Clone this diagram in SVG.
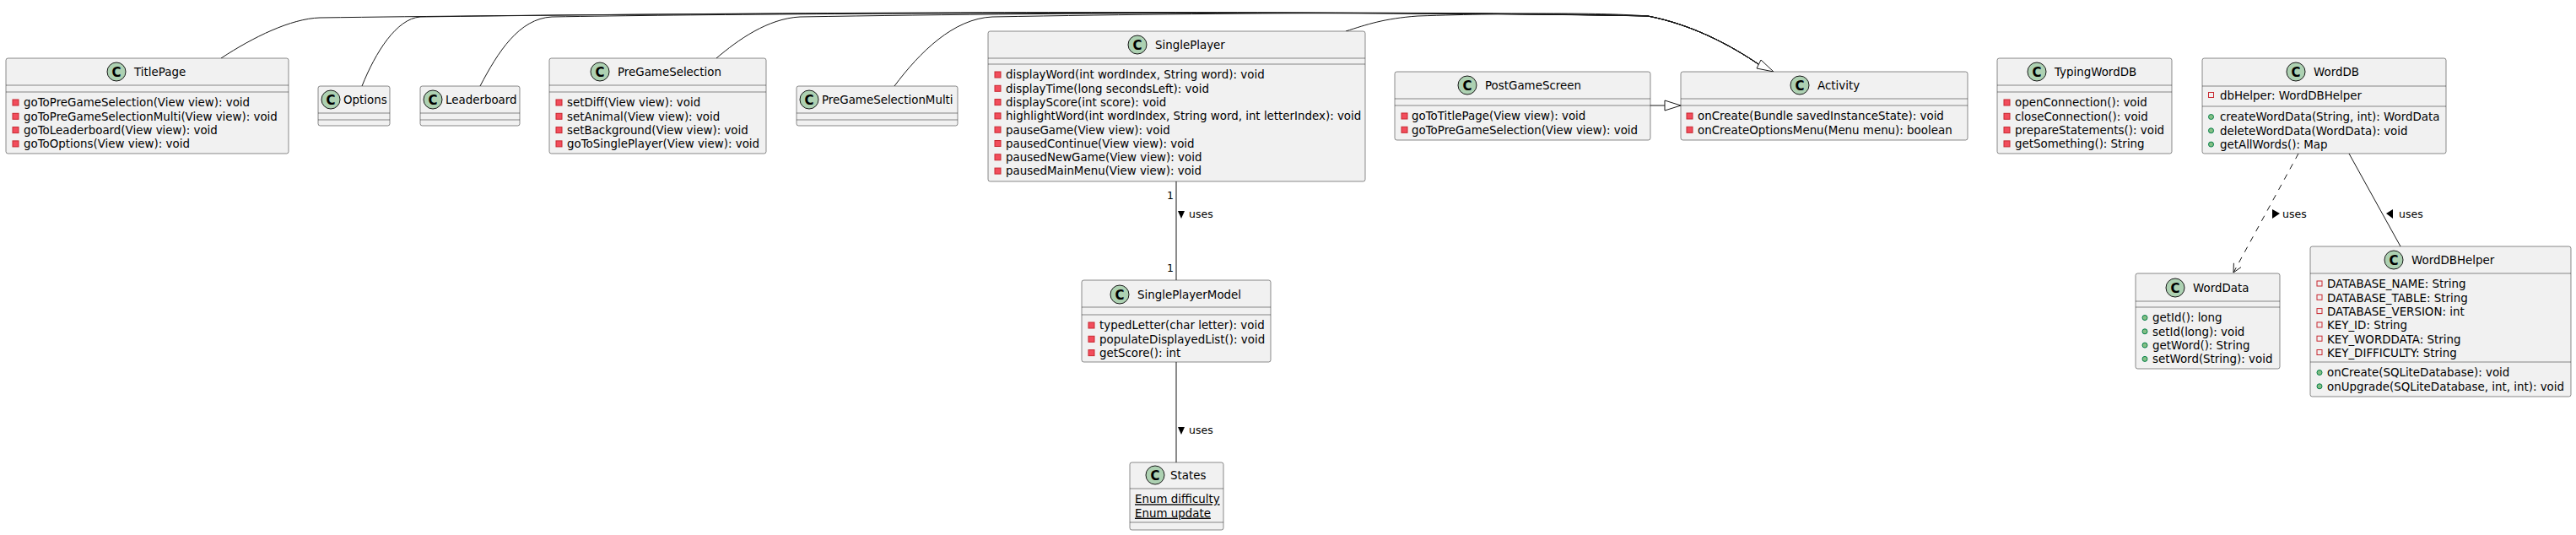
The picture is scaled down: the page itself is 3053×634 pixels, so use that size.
<svg xmlns="http://www.w3.org/2000/svg" width="3053" height="634" viewBox="0 0 3053 634">
<style>
.box{fill:#F1F1F1;stroke:#181818;stroke-width:0.5}
.dv{stroke:#181818;stroke-width:0.5}
.t{font-family:"DejaVu Sans",sans-serif;font-size:13.4px;fill:#000}
.lb{font-family:"DejaVu Sans",sans-serif;font-size:12.5px;fill:#000}
.ci{fill:#ADD1B2;stroke:#181818;stroke-width:1}
.cl{font-family:"DejaVu Sans",sans-serif;font-weight:bold;font-size:15px;text-anchor:middle;fill:#000}
.pm{fill:#F24D5C;stroke:#C82930;stroke-width:1}
.pf{fill:none;stroke:#C82930;stroke-width:1}
.pub{fill:#84BE84;stroke:#038048;stroke-width:1}
.e{fill:none;stroke:#181818;stroke-width:1}
.u{text-decoration:underline}
</style>
<rect width="3053" height="634" fill="#FFFFFF"/>
<g id="connectors">
<path class="e" d="M262,69 C300,44 345,22 379,21 C900,14 1700,13 1953,19 C2005,29 2050,53 2084,76"/>
<path class="e" d="M429,102 C445,62 470,22 498,20 C1000,13 1700,13 1953,19 C2005,29 2050,53 2084,76"/>
<path class="e" d="M569,102 C590,62 615,22 654,20 C1000,14 1700,14 1953,19 C2005,29 2050,53 2084,76"/>
<path class="e" d="M849,69 C875,47 910,22 948,20 C1300,14 1700,14 1953,19 C2005,29 2050,53 2084,76"/>
<path class="e" d="M1060,102 C1090,62 1130,22 1176,20 C1500,14 1800,14 1953,19 C2005,29 2050,53 2084,76"/>
<path class="e" d="M1595,37 C1620,29 1640,22 1680,19 C1800,15 1900,15 1953,19 C2005,29 2050,53 2084,76"/>
<polygon points="2102,85 2082,81 2087,71" fill="#FFFFFF" stroke="#181818" stroke-width="1"/>
<line class="e" x1="1956" y1="125" x2="1973" y2="125"/>
<polygon points="1992,125 1973,119 1973,131" fill="#FFFFFF" stroke="#181818" stroke-width="1"/>
<line class="e" x1="1394" y1="215" x2="1394" y2="332"/>
<text class="lb" x="1391" y="236" text-anchor="end">1</text>
<text class="lb" x="1391" y="322" text-anchor="end">1</text>
<polygon points="1396,250 1404,250 1400,259" fill="#000"/>
<text class="lb" x="1409" y="258">uses</text>
<line class="e" x1="1394" y1="429" x2="1394" y2="548"/>
<polygon points="1396,506 1404,506 1400,515" fill="#000"/>
<text class="lb" x="1409" y="514">uses</text>
<line class="e" x1="2724" y1="182" x2="2647" y2="323" stroke-dasharray="7,7"/>
<polyline class="e" points="2656,316.6 2647,323 2647.4,311.8"/>
<polygon points="2693,248 2693,259 2702,253" fill="#000"/>
<text class="lb" x="2705" y="258">uses</text>
<line class="e" x1="2784" y1="182" x2="2845" y2="292"/>
<polygon points="2836,248 2836,259 2828,253" fill="#000"/>
<text class="lb" x="2843" y="258">uses</text>
</g>
<g id="TitlePage">
<rect class="box" x="7" y="69" width="335" height="113" rx="2.5"/>
<line class="dv" x1="7" y1="101" x2="342" y2="101"/><line class="dv" x1="7" y1="109" x2="342" y2="109"/>
<circle class="ci" cx="138" cy="85" r="11"/><text class="cl" x="138" y="90.5">C</text>
<text class="t" x="159" y="90">TitlePage</text>
<rect class="pm" x="15" y="118" width="7" height="7"/><text class="t" x="28" y="126.3">goToPreGameSelection(View view): void</text>
<rect class="pm" x="15" y="134.3" width="7" height="7"/><text class="t" x="28" y="142.6">goToPreGameSelectionMulti(View view): void</text>
<rect class="pm" x="15" y="150.6" width="7" height="7"/><text class="t" x="28" y="158.9">goToLeaderboard(View view): void</text>
<rect class="pm" x="15" y="166.9" width="7" height="7"/><text class="t" x="28" y="175.2">goToOptions(View view): void</text>
</g>
<g id="Options">
<rect class="box" x="377" y="102" width="85" height="47" rx="2.5"/>
<line class="dv" x1="377" y1="134" x2="462" y2="134"/><line class="dv" x1="377" y1="142" x2="462" y2="142"/>
<circle class="ci" cx="392" cy="118" r="11"/><text class="cl" x="392" y="123.5">C</text>
<text class="t" x="407" y="123">Options</text>
</g>
<g id="Leaderboard">
<rect class="box" x="498" y="102" width="118" height="47" rx="2.5"/>
<line class="dv" x1="498" y1="134" x2="616" y2="134"/><line class="dv" x1="498" y1="142" x2="616" y2="142"/>
<circle class="ci" cx="513" cy="118" r="11"/><text class="cl" x="513" y="123.5">C</text>
<text class="t" x="528" y="123">Leaderboard</text>
</g>
<g id="PreGameSelection">
<rect class="box" x="651" y="69" width="257" height="113" rx="2.5"/>
<line class="dv" x1="651" y1="101" x2="908" y2="101"/><line class="dv" x1="651" y1="109" x2="908" y2="109"/>
<circle class="ci" cx="711" cy="85" r="11"/><text class="cl" x="711" y="90.5">C</text>
<text class="t" x="732" y="90">PreGameSelection</text>
<rect class="pm" x="659" y="118" width="7" height="7"/><text class="t" x="672" y="126.3">setDiff(View view): void</text>
<rect class="pm" x="659" y="134.3" width="7" height="7"/><text class="t" x="672" y="142.6">setAnimal(View view): void</text>
<rect class="pm" x="659" y="150.6" width="7" height="7"/><text class="t" x="672" y="158.9">setBackground(View view): void</text>
<rect class="pm" x="659" y="166.9" width="7" height="7"/><text class="t" x="672" y="175.2">goToSinglePlayer(View view): void</text>
</g>
<g id="PreGameSelectionMulti">
<rect class="box" x="944" y="102" width="191" height="47" rx="2.5"/>
<line class="dv" x1="944" y1="134" x2="1135" y2="134"/><line class="dv" x1="944" y1="142" x2="1135" y2="142"/>
<circle class="ci" cx="959" cy="118" r="11"/><text class="cl" x="959" y="123.5">C</text>
<text class="t" x="974" y="123">PreGameSelectionMulti</text>
</g>
<g id="SinglePlayer">
<rect class="box" x="1171" y="37" width="447" height="178" rx="2.5"/>
<line class="dv" x1="1171" y1="69" x2="1618" y2="69"/><line class="dv" x1="1171" y1="76" x2="1618" y2="76"/>
<circle class="ci" cx="1348" cy="53" r="11"/><text class="cl" x="1348" y="58.5">C</text>
<text class="t" x="1369" y="58">SinglePlayer</text>
<rect class="pm" x="1179" y="85" width="7" height="7"/><text class="t" x="1192" y="93.3">displayWord(int wordIndex, String word): void</text>
<rect class="pm" x="1179" y="101.3" width="7" height="7"/><text class="t" x="1192" y="109.6">displayTime(long secondsLeft): void</text>
<rect class="pm" x="1179" y="117.6" width="7" height="7"/><text class="t" x="1192" y="125.9">displayScore(int score): void</text>
<rect class="pm" x="1179" y="133.9" width="7" height="7"/><text class="t" x="1192" y="142.2">highlightWord(int wordIndex, String word, int letterIndex): void</text>
<rect class="pm" x="1179" y="150.2" width="7" height="7"/><text class="t" x="1192" y="158.5">pauseGame(View view): void</text>
<rect class="pm" x="1179" y="166.5" width="7" height="7"/><text class="t" x="1192" y="174.8">pausedContinue(View view): void</text>
<rect class="pm" x="1179" y="182.8" width="7" height="7"/><text class="t" x="1192" y="191.1">pausedNewGame(View view): void</text>
<rect class="pm" x="1179" y="199.1" width="7" height="7"/><text class="t" x="1192" y="207.4">pausedMainMenu(View view): void</text>
</g>
<g id="PostGameScreen">
<rect class="box" x="1653" y="85" width="303" height="81" rx="2.5"/>
<line class="dv" x1="1653" y1="117" x2="1956" y2="117"/><line class="dv" x1="1653" y1="125" x2="1956" y2="125"/>
<circle class="ci" cx="1739" cy="101" r="11"/><text class="cl" x="1739" y="106.5">C</text>
<text class="t" x="1760" y="106">PostGameScreen</text>
<rect class="pm" x="1661" y="134" width="7" height="7"/><text class="t" x="1673" y="142.3">goToTitlePage(View view): void</text>
<rect class="pm" x="1661" y="150.3" width="7" height="7"/><text class="t" x="1673" y="158.6">goToPreGameSelection(View view): void</text>
</g>
<g id="Activity">
<rect class="box" x="1992" y="85" width="340" height="81" rx="2.5"/>
<line class="dv" x1="1992" y1="117" x2="2332" y2="117"/><line class="dv" x1="1992" y1="125" x2="2332" y2="125"/>
<circle class="ci" cx="2133" cy="101" r="11"/><text class="cl" x="2133" y="106.5">C</text>
<text class="t" x="2154" y="106">Activity</text>
<rect class="pm" x="1999" y="134" width="7" height="7"/><text class="t" x="2012" y="142.3">onCreate(Bundle savedInstanceState): void</text>
<rect class="pm" x="1999" y="150.3" width="7" height="7"/><text class="t" x="2012" y="158.6">onCreateOptionsMenu(Menu menu): boolean</text>
</g>
<g id="TypingWordDB">
<rect class="box" x="2367" y="69" width="207" height="113" rx="2.5"/>
<line class="dv" x1="2367" y1="101" x2="2574" y2="101"/><line class="dv" x1="2367" y1="109" x2="2574" y2="109"/>
<circle class="ci" cx="2414" cy="85" r="11"/><text class="cl" x="2414" y="90.5">C</text>
<text class="t" x="2435" y="90">TypingWordDB</text>
<rect class="pm" x="2375" y="118" width="7" height="7"/><text class="t" x="2388" y="126.3">openConnection(): void</text>
<rect class="pm" x="2375" y="134.3" width="7" height="7"/><text class="t" x="2388" y="142.6">closeConnection(): void</text>
<rect class="pm" x="2375" y="150.6" width="7" height="7"/><text class="t" x="2388" y="158.9">prepareStatements(): void</text>
<rect class="pm" x="2375" y="166.9" width="7" height="7"/><text class="t" x="2388" y="175.2">getSomething(): String</text>
</g>
<g id="WordDB">
<rect class="box" x="2610" y="69" width="289" height="113" rx="2.5"/>
<line class="dv" x1="2610" y1="102" x2="2899" y2="102"/><line class="dv" x1="2610" y1="126" x2="2899" y2="126"/>
<circle class="ci" cx="2721" cy="85" r="11"/><text class="cl" x="2721" y="90.5">C</text>
<text class="t" x="2742" y="90">WordDB</text>
<rect class="pf" x="2617.5" y="109.5" width="6" height="6"/><text class="t" x="2631" y="118">dbHelper: WordDBHelper</text>
<circle class="pub" cx="2620.5" cy="138.5" r="3"/><text class="t" x="2631" y="143.3">createWordData(String, int): WordData</text>
<circle class="pub" cx="2620.5" cy="154.8" r="3"/><text class="t" x="2631" y="159.6">deleteWordData(WordData): void</text>
<circle class="pub" cx="2620.5" cy="171.1" r="3"/><text class="t" x="2631" y="175.9">getAllWords(): Map</text>
</g>
<g id="SinglePlayerModel">
<rect class="box" x="1282" y="332" width="224" height="97" rx="2.5"/>
<line class="dv" x1="1282" y1="364" x2="1506" y2="364"/><line class="dv" x1="1282" y1="373" x2="1506" y2="373"/>
<circle class="ci" cx="1327" cy="349" r="11"/><text class="cl" x="1327" y="354.5">C</text>
<text class="t" x="1348" y="354">SinglePlayerModel</text>
<rect class="pm" x="1290" y="382" width="7" height="7"/><text class="t" x="1303" y="390.3">typedLetter(char letter): void</text>
<rect class="pm" x="1290" y="398.3" width="7" height="7"/><text class="t" x="1303" y="406.6">populateDisplayedList(): void</text>
<rect class="pm" x="1290" y="414.6" width="7" height="7"/><text class="t" x="1303" y="422.9">getScore(): int</text>
</g>
<g id="States">
<rect class="box" x="1339" y="548" width="111" height="80" rx="2.5"/>
<line class="dv" x1="1339" y1="579" x2="1450" y2="579"/><line class="dv" x1="1339" y1="619" x2="1450" y2="619"/>
<circle class="ci" cx="1369" cy="563" r="11"/><text class="cl" x="1369" y="568.5">C</text>
<text class="t" x="1387" y="568">States</text>
<text class="t u" x="1345" y="596.3">Enum difficulty</text>
<text class="t u" x="1345" y="612.6">Enum update</text>
</g>
<g id="WordData">
<rect class="box" x="2531" y="324" width="171" height="113" rx="2.5"/>
<line class="dv" x1="2531" y1="357" x2="2702" y2="357"/><line class="dv" x1="2531" y1="364" x2="2702" y2="364"/>
<circle class="ci" cx="2578" cy="341" r="11"/><text class="cl" x="2578" y="346.5">C</text>
<text class="t" x="2599" y="346">WordData</text>
<circle class="pub" cx="2542" cy="376.5" r="3"/><text class="t" x="2551" y="381.3">getId(): long</text>
<circle class="pub" cx="2542" cy="392.8" r="3"/><text class="t" x="2551" y="397.6">setId(long): void</text>
<circle class="pub" cx="2542" cy="409.1" r="3"/><text class="t" x="2551" y="413.9">getWord(): String</text>
<circle class="pub" cx="2542" cy="425.4" r="3"/><text class="t" x="2551" y="430.2">setWord(String): void</text>
</g>
<g id="WordDBHelper">
<rect class="box" x="2738" y="292" width="309" height="178" rx="2.5"/>
<line class="dv" x1="2738" y1="324" x2="3047" y2="324"/><line class="dv" x1="2738" y1="429" x2="3047" y2="429"/>
<circle class="ci" cx="2837" cy="308" r="11"/><text class="cl" x="2837" y="313.5">C</text>
<text class="t" x="2858" y="313">WordDBHelper</text>
<rect class="pf" x="2746" y="333" width="6" height="6"/><text class="t" x="2758" y="341.3">DATABASE_NAME: String</text>
<rect class="pf" x="2746" y="349.3" width="6" height="6"/><text class="t" x="2758" y="357.6">DATABASE_TABLE: String</text>
<rect class="pf" x="2746" y="365.6" width="6" height="6"/><text class="t" x="2758" y="373.9">DATABASE_VERSION: int</text>
<rect class="pf" x="2746" y="381.9" width="6" height="6"/><text class="t" x="2758" y="390.2">KEY_ID: String</text>
<rect class="pf" x="2746" y="398.2" width="6" height="6"/><text class="t" x="2758" y="406.5">KEY_WORDDATA: String</text>
<rect class="pf" x="2746" y="414.5" width="6" height="6"/><text class="t" x="2758" y="422.8">KEY_DIFFICULTY: String</text>
<circle class="pub" cx="2749" cy="441.5" r="3"/><text class="t" x="2758" y="446.3">onCreate(SQLiteDatabase): void</text>
<circle class="pub" cx="2749" cy="457.8" r="3"/><text class="t" x="2758" y="462.6">onUpgrade(SQLiteDatabase, int, int): void</text>
</g>
</svg>
